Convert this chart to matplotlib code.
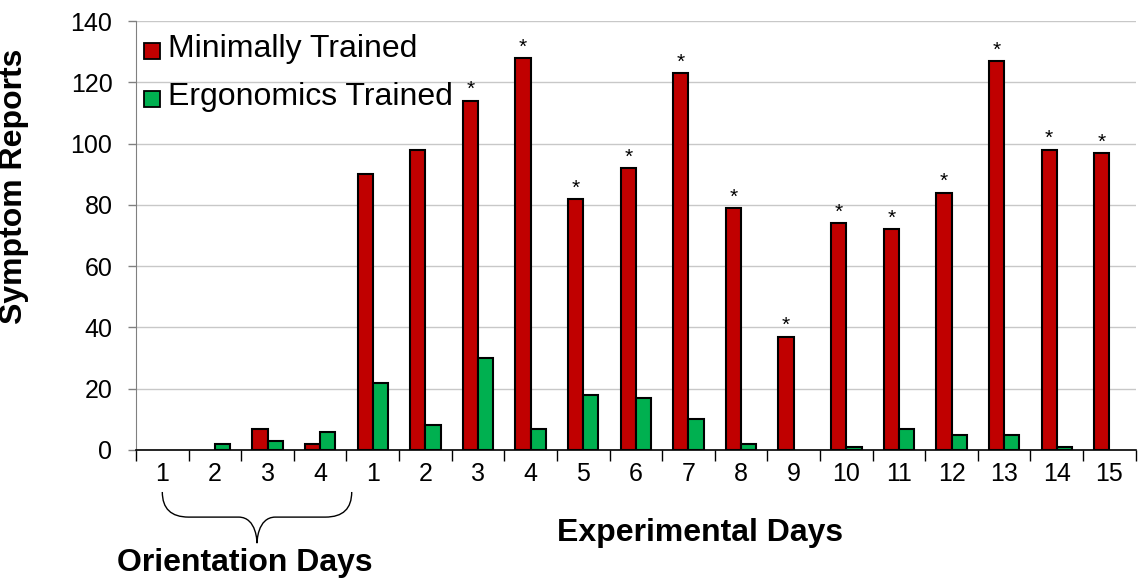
import matplotlib
matplotlib.use("Agg")
import matplotlib.pyplot as plt
from matplotlib.path import Path
from matplotlib.patches import PathPatch, Rectangle
import numpy as np

plt.rcParams['font.family'] = ['Liberation Sans', 'DejaVu Sans']

tick_labels = ['1', '2', '3', '4', '1', '2', '3', '4', '5', '6', '7', '8', '9', '10',
               '11', '12', '13', '14', '15']
series_names = ['Minimally Trained', 'Ergonomics Trained']
series_colors = ['#C00000', '#00B050']
minimally = [0, 0, 7, 2, 90, 98, 114, 128, 82, 92, 123, 79, 37, 74, 72, 84, 127, 98, 97]
ergonomics = [0, 2, 3, 6, 22, 8, 30, 7, 18, 17, 10, 2, 0, 1, 7, 5, 5, 1, 0]
significant = [False, False, False, False, False, False, True, True, True, True, True,
               True, True, True, True, True, True, True, True]

W, H = 1138, 579
fig = plt.figure(figsize=(W / 100, H / 100), dpi=100)
ax = fig.add_axes([0.1195, 0.2228, 0.8785, 0.7409])

x = np.arange(len(tick_labels))
w = 0.29
m_arr = np.array(minimally, dtype=float)
e_arr = np.array(ergonomics, dtype=float)
mm = m_arr > 0
em = e_arr > 0
ax.bar(x[mm] - w / 2, m_arr[mm], w, color=series_colors[0], edgecolor='black',
       linewidth=1.5, label=series_names[0], zorder=3)
ax.bar(x[em] + w / 2, e_arr[em], w, color=series_colors[1], edgecolor='black',
       linewidth=1.5, label=series_names[1], zorder=3)

for xi, v, s in zip(x, minimally, significant):
    if s:
        ax.annotate('*', (xi - w / 2, v), xytext=(0, 1), textcoords='offset points',
                    ha='center', va='bottom', fontsize=15)

ax.set_xlim(-0.5, len(tick_labels) - 0.5)
ax.set_ylim(0, 140)
ax.set_yticks(range(0, 141, 20))
ax.tick_params(axis='y', labelsize=18, length=6, width=1, color='#808080', pad=11)
ax.set_xticks(x)
ax.set_xticklabels(tick_labels, fontsize=18)
ax.tick_params(axis='x', length=0, pad=9)
ax.set_xticks(np.arange(-0.5, len(tick_labels), 1), minor=True)
ax.tick_params(axis='x', which='minor', length=8, width=1, color='black')
ax.grid(axis='y', color='#C8C8C8', linewidth=1, zorder=0)
for sp in ['top', 'right']:
    ax.spines[sp].set_visible(False)
ax.spines['left'].set_color('#808080')
ax.spines['bottom'].set_color('black')
ax.spines['bottom'].set_linewidth(1.2)
ax.spines['bottom'].set_zorder(4)

ax.set_ylabel('Symptom Reports', fontsize=23, fontweight='bold')
ax.yaxis.set_label_coords(-0.107, 0.615)

# Legend (drawn manually for exact placement)
for i, (name, col) in enumerate(zip(series_names, series_colors)):
    top = 43 + 48 * i
    fig.patches.append(Rectangle((144 / W, 1 - (top + 16) / H), 16 / W, 16 / H,
                                 transform=fig.transFigure, facecolor=col,
                                 edgecolor='black', linewidth=1.3, figure=fig))
    fig.text(168 / W, 1 - (57 + 48 * i) / H, name, fontsize=23, ha='left', va='baseline')

# Brace under orientation days
x0, x1 = 0.0, 3.6
xm = (x0 + x1) / 2
yt, yh, yb = -13.7, -21.9, -30.4
verts = [
    (x0, yt), (x0, yh), (x0 + 0.5, yh),
    (xm - 0.35, yh),
    (xm, yh), (xm, yb), (xm, yb),
    (xm, yb), (xm, yh), (xm + 0.35, yh),
    (x1 - 0.5, yh),
    (x1, yh), (x1, yt),
]
codes = [Path.MOVETO, Path.CURVE3, Path.CURVE3,
         Path.LINETO,
         Path.CURVE4, Path.CURVE4, Path.CURVE4,
         Path.CURVE4, Path.CURVE4, Path.CURVE4,
         Path.LINETO,
         Path.CURVE3, Path.CURVE3]
brace = PathPatch(Path(verts, codes), facecolor='none', edgecolor='black', linewidth=1,
                  clip_on=False)
ax.add_patch(brace)

fig.text(0.615, 1 - 533 / H, 'Experimental Days', fontsize=23, fontweight='bold',
         ha='center', va='center')
fig.text(0.215, 1 - 563 / H, 'Orientation Days', fontsize=23, fontweight='bold',
         ha='center', va='center')

fig.savefig('out.png', dpi=100)
